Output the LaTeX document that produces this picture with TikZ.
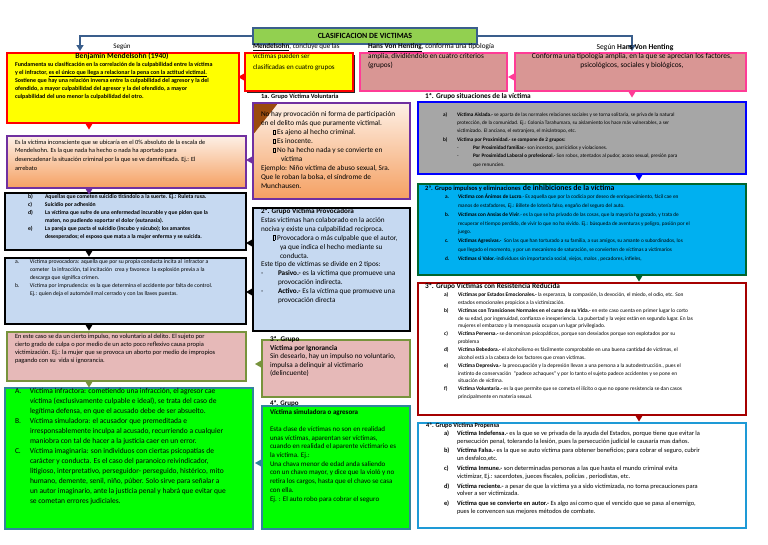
\documentclass[tikz,border=0pt]{standalone}
\usepackage{fontspec}
\setmainfont{Carlito}
\usetikzlibrary{arrows.meta,calc,shadows}
\definecolor{lnblue}{HTML}{3A5E8C}
\definecolor{ttlgreen}{HTML}{92D050}
\definecolor{ylw}{HTML}{FFFF00}
\definecolor{rd}{HTML}{FF0000}
\definecolor{pinkf}{HTML}{D99694}
\definecolor{pinkb}{HTML}{FF3C96}
\definecolor{purp}{HTML}{7030A0}
\definecolor{peachT}{HTML}{FDF0E6}
\definecolor{peachB}{HTML}{F5A062}
\definecolor{ltblue}{HTML}{C6D9F1}
\definecolor{olivec}{HTML}{77933C}
\definecolor{rosef}{HTML}{E6B9B8}
\definecolor{grn}{HTML}{00FF00}
\definecolor{tealc}{HTML}{31859C}
\definecolor{grayf}{HTML}{A6A6A6}
\definecolor{blc}{HTML}{0000FF}
\definecolor{cyanf}{HTML}{00B0F0}
\definecolor{dgreen}{HTML}{00662E}
\definecolor{dred}{HTML}{A50000}
\definecolor{skyb}{HTML}{1E9AD6}
\definecolor{brownc}{HTML}{9A4A0E}
\newcommand\fs[2]{\fontsize{#1}{#2}\selectfont}
\newcommand\lb[2]{\makebox[#1][l]{#2}}
\newcommand\hs[1]{\hspace*{#1}}
\newcommand\sqb{\mbox{\vrule width .35pt height 4.8pt depth 0pt\vbox to 4.8pt{\hrule width 1.9pt height .35pt\vfill\hrule width 1.9pt height .35pt}\vrule width .35pt height 4.8pt depth 0pt}\hspace{1.5pt}}
\newcommand\tdn[2]{\fill[#2] #1 ++(-4,0) -- ++(8,0) -- ++(-4,6.5) -- cycle;}
\newcommand\tlf[2]{\fill[#2] #1 ++(0,-4) -- ++(0,8) -- ++(-7,-4) -- cycle;}
\tikzset{
  bx/.style={draw, line width=2.3pt, inner sep=0pt, outer sep=0pt, anchor=north west},
  tx/.style={anchor=north west, inner sep=0pt, outer sep=0pt, align=left},
  conn/.style={draw=lnblue, line width=2pt, -{Triangle[length=6pt,width=7pt]}},
}
\begin{document}
\begin{tikzpicture}[x=1pt,y=-1pt]
\path[use as bounding box, fill=white] (0,0) rectangle (768,544);

% ---------- top row
\node[bx, draw=lnblue, fill=ttlgreen, line width=1.6pt, minimum width=224pt, minimum height=16pt, font=\bfseries\fs{7.9}{9}] (title) at (253,28) {CLASIFICACION DE VICTIMAS};

\node[bx, draw=rd, fill=ylw, line width=2.6pt, minimum width=232pt, minimum height=70pt] (yl) at (7,53) {};
\node[bx, draw=rd, fill=ylw, line width=2.6pt, minimum width=108pt, minimum height=38pt, drop shadow={shadow xshift=1.5pt, shadow yshift=-2pt, fill=black, opacity=.85}] (ym) at (245,53) {};
\node[bx, draw=pinkb, fill=pinkf, minimum width=147pt, minimum height=38pt] (pm) at (360,53) {};
\node[bx, draw=pinkb, fill=pinkf, minimum width=231pt, minimum height=38pt] (pr) at (515,53) {};

% ---------- left column
\node[bx, draw=purp, top color=peachT, bottom color=peachB, minimum width=239pt, minimum height=52pt] (pk) at (7,136) {};
\node[bx, draw=black, fill=ltblue, line width=2.8pt, minimum width=241pt, minimum height=57pt] (r3) at (5,193) {};
\node[bx, draw=black, fill=ltblue, line width=2.8pt, minimum width=241pt, minimum height=66pt] (r4) at (5,258) {};
\node[bx, draw=olivec, fill=rosef, minimum width=239pt, minimum height=49pt] (r5) at (7,332) {};
\node[bx, draw=tealc, fill=grn, minimum width=248pt, minimum height=141pt] (r6) at (5,388) {};

% ---------- middle column
\node[bx, draw=purp, top color=peachT, bottom color=peachB, minimum width=157pt, minimum height=96pt] (vol) at (253,103) {};
\fill[brownc] ($(vol.north west)+(1.2,1.2)$) -- ++(23,0) -- ++(-23,29) -- cycle;
\node[bx, draw=black, fill=ltblue, line width=2.8pt, minimum width=157pt, minimum height=123pt] (prov) at (253,208) {};
\node[bx, draw=olivec, fill=rosef, minimum width=148pt, minimum height=57pt] (ign) at (262,340) {};
\node[bx, draw=tealc, fill=grn, minimum width=148pt, minimum height=123pt] (g4) at (262,406) {};

% ---------- right column
\node[bx, draw=blc, fill=grayf, minimum width=328pt, minimum height=72pt] (gr) at (418,102) {};
\node[bx, draw=dgreen, fill=cyanf, minimum width=328pt, minimum height=91pt] (cy) at (418,184) {};
\node[bx, draw=dred, fill=white, minimum width=328pt, minimum height=132pt] (rb) at (418,283) {};
\node[bx, draw=skyb, fill=white, minimum width=328pt, minimum height=105pt] (bb) at (418,423) {};

% ---------- callout triangles
\tdn{($(yl.south west)+(82,0)$)}{rd}
\tdn{($(pk.south west)+(82,0)$)}{purp}
\tdn{($(r3.south west)+(84,0)$)}{black}
\tdn{($(r4.south west)+(84,0)$)}{black}
\tdn{($(r5.south west)+(82,0)$)}{olivec}
\tdn{($(pr.south west)+(117,0)$)}{pinkb}
\tdn{($(gr.south west)+(221,0)$)}{blc}
\tdn{($(cy.south west)+(221,0)$)}{dgreen}
\tdn{($(rb.south west)+(221,0)$)}{dred}
\tlf{($(ym.north west)+(0,24)$)}{rd}
\tlf{($(pr.north west)+(0,24)$)}{pinkb}
\tlf{($(vol.north west)+(0,57)$)}{purp}
\tlf{($(prov.north west)+(0,35)$)}{black}
\tlf{($(prov.north west)+(0,84)$)}{black}
\tlf{($(ign.north west)+(0,24)$)}{olivec}
\tlf{($(g4.north west)+(0,57)$)}{tealc}

% ---------- connectors from the title
\coordinate (lend) at (80,51);
\coordinate (rend) at (632,51);
\draw[conn] (title.west) -| (lend);
\draw[conn] (title.east) -| (rend);

% ---------- texts: top row
\node[font=\fs{7}{8}, inner sep=0pt] (seg1) at (122,47) {Según};
\node[font=\bfseries\fs{7.6}{8}, inner sep=0pt] (bm) at (122,56) {Benjamin Mendelsohn (1940)};
\node[tx, font=\bfseries\fs{6}{8}] (t1) at (15,61.8) {Fundamenta su clasificación en la correlación de la culpabilidad entre la víctima\\
y el infractor, \underline{es el único que llega a relacionar la pena con la actitud victimal.}\\
Sostiene que hay una relación inversa entre la culpabilidad del agresor y la del\\
ofendido, a mayor culpabilidad del agresor y la del ofendido, a mayor\\
culpabilidad del uno menor la culpabilidad del otro.};
\node[tx, font=\fs{7}{10.5}] (t2) at (253,43.5) {\textbf{\underline{Mendelsohn}}, concluye que las\\
víctimas pueden ser\\
clasificadas en cuatro grupos};
\node[tx, font=\fs{7.3}{9.5}] (t3) at (368,43.5) {\textbf{\underline{Hans Von Henting}}, conforma una tipología\\
amplia, dividiéndolo en cuatro criterios\\
(grupos)};
\node[font=\fs{7.6}{8}, inner sep=0pt] (seg2) at (635,47) {Según \textbf{Hans Von Henting}};
\node[font=\fs{7.5}{9}, align=center, anchor=north, inner sep=0pt] (t4) at (632,53) {Conforma una tipología amplia, en la que se aprecian los factores,\\
psicológicos, sociales y biológicos,};

% ---------- texts: left column
\node[tx, font=\fs{6.3}{8.6}] (t5) at (15,140) {Es la víctima inconsciente que se ubicaría en el 0\% absoluto de la escala de\\
Mendelsohn. Es la que nada ha hecho o nada ha aportado para\\
desencadenar la situación criminal por la que se ve damnificada. Ej.: El\\
arrebato};
\node[tx, font=\bfseries\fs{5.7}{8}] (t6) at (28,194.5) {\lb{17pt}{b)}Aquellas que cometen suicidio tirándolo a la suerte. Ej.: Ruleta rusa.\\
\lb{17pt}{c)}Suicidio por adhesión\\
\lb{17pt}{d)}La víctima que sufre de una enfermedad incurable y que piden que la\\
\hs{17pt}maten, no pudiendo soportar el dolor (eutanasia).\\
\lb{17pt}{e)}La pareja que pacta el suicidio (incubo y súcubo); los amantes\\
\hs{17pt}desesperados; el esposo que mata a la mujer enferma y se suicida.};
\node[tx, font=\fs{5.7}{7.9}] (t7) at (15,259.5) {\lb{15pt}{a.}Víctima provocadora: aquella que por su propia conducta incita al\ \ infractor a\\
\hs{15pt}cometer\ \ la infracción, tal incitación\ \ crea y favorece\ \ la explosión previa a la\\
\hs{15pt}descarga que significa crimen.\\
\lb{15pt}{b.}Víctima por imprudencia: es la que determina el accidente por falta de control.\\
\hs{15pt}Ej.: quien deja el automóvil mal cerrado y con las llaves puestas.};
\node[tx, font=\fs{6.4}{8}] (t8) at (15,334) {En este caso se da un cierto impulso, no voluntario al delito. El sujeto por\\
cierto grado de culpa o por medio de un acto poco reflexivo causa propia\\
victimización. Ej.: la mujer que se provoca un aborto por medio de impropios\\
pagando con su\ \ vida si ignorancia.};
\node[tx, font=\fs{7.5}{10}] (t9) at (15,388.5) {\lb{15pt}{A.}Víctima infractora: cometiendo una infracción, el agresor cae\\
\hs{15pt}víctima (exclusivamente culpable e ideal), se trata del caso de\\
\hs{15pt}legítima defensa, en que el acusado debe de ser absuelto.\\
\lb{15pt}{B.}Víctima simuladora: el acusador que premeditada e\\
\hs{15pt}irresponsablemente inculpa al acusado, recurriendo a cualquier\\
\hs{15pt}maniobra con tal de hacer a la justicia caer en un error.\\
\lb{15pt}{C.}Víctima imaginaria: son individuos con ciertas psicopatías de\\
\hs{15pt}carácter y conducta. Es el caso del paranoico reivindicador,\\
\hs{15pt}litigioso, interpretativo, perseguidor- perseguido, histérico, mito\\
\hs{15pt}humano, demente, senil, niño, púber. Solo sirve para señalar a\\
\hs{15pt}un autor imaginario, ante la justicia penal y habrá que evitar que\\
\hs{15pt}se cometan errores judiciales.};

% ---------- texts: middle column
\node[font=\bfseries\fs{6.4}{7}, anchor=west, inner sep=0pt] (h1) at (261,97) {1a. Grupo Víctima Voluntaria};
\node[tx, font=\fs{7.3}{9}] (t10) at (261,111.5) {No hay provocación ni forma de participación\\
en el delito más que puramente victimal.\\
\hs{12pt}\sqb Es ajeno al hecho criminal.\\
\hs{12pt}\sqb Es inocente.\\
\hs{12pt}\sqb No ha hecho nada y se convierte en\\
\hs{20pt}víctima\\
Ejemplo: Niño víctima de abuso sexual, Sra.\\
Que le roban la bolsa, el síndrome de\\
Munchausen.};
\node[tx, font=\fs{7.2}{8.9}] (t11) at (261,208.5) {\textbf{2ª. Grupo Víctima Provocadora}\\
Estas víctimas han colaborado en la acción\\
nociva y existe una culpabilidad recíproca.\\
\hs{12pt}\sqb Provocadora o más culpable que el autor,\\
\hs{19pt}ya que indica el hecho mediante su\\
\hs{19pt}conducta.\\
Este tipo de víctimas se divide en 2 tipos:\\
\lb{17pt}{-}\textbf{Pasivo.-} es la víctima que promueve una\\
\hs{17pt}provocación indirecta.\\
\lb{17pt}{-}\textbf{Activo.-} Es la víctima que promueve una\\
\hs{17pt}provocación directa};
\node[tx, font=\fs{7.2}{8.6}] (t12) at (270,336.5) {\textbf{3ª. Grupo}\\
\textbf{Víctima por Ignorancia}\\
Sin desearlo, hay un impulso no voluntario,\\
impulsa a delinquir al victimario\\
(delincuente)};
\node[tx, font=\fs{7}{8.7}] (t13) at (270,400.5) {\textbf{4ª. Grupo}\\
\textbf{Víctima simuladora o agresora}\\
\mbox{}\\
Esta clase de víctimas no son en realidad\\
unas víctimas, aparentan ser víctimas,\\
cuando en realidad el aparente victimario es\\
la víctima. Ej.:\\
Una chava menor de edad anda saliendo\\
con un chavo mayor, y dice que la violó y no\\
retira los cargos, hasta que el chavo se casa\\
con ella.\\
Ej. : El auto robo para cobrar el seguro};

% ---------- texts: right column
\node[font=\bfseries\fs{7.3}{8}, anchor=west, inner sep=0pt] (h2) at (425,97) {1ª. Grupo situaciones de la víctima};
\node[tx, font=\fs{5.2}{8.3}] (t14) at (443,112.5) {\lb{14pt}{\textbf{a)}}\textbf{Víctima Aislada.-} se aparta de las normales relaciones sociales y se torna solitaria, se priva de la natural\\
\hs{14pt}protección, de la comunidad. Ej.: Colonia Tarahumara, su aislamiento los hace más vulnerables, a ser\\
\hs{14pt}victimizado. El anciano, el extranjero, el misántropo, etc.\\
\lb{14pt}{\textbf{b)}}\textbf{Víctima por Proximidad.- se compone de 2 grupos:}\\
\hs{14pt}\lb{16pt}{-}\textbf{Por Proximidad familiar.-} son incestos, parricidios y violaciones.\\
\hs{14pt}\lb{16pt}{-}\textbf{Por Proximidad Laboral o profesional.-} Son robos, atentados al pudor, acoso sexual, presión para\\
\hs{30pt}que renuncien.};
\node[anchor=west, inner sep=0pt] (h3) at (425,188) {{\bfseries\fs{6.5}{7}2ª. Grupo impulsos y eliminaciones} {\bfseries\fs{7.8}{8}de inhibiciones de la víctima}};
\node[tx, font=\fs{5.3}{8.86}] (t15) at (445,194) {\lb{13pt}{\textbf{a.}}\textbf{Víctima con Ánimos de Lucro}.- Es aquella que por la codicia por deseo de enriquecimiento, fácil cae en\\
\hs{13pt}manos de estafadores, Ej.: Billete de lotería falso, engaño del seguro del auto.\\
\lb{13pt}{\textbf{b.}}\textbf{Víctimas con Ansias de Vivir}.- es la que se ha privado de las cosas, que la mayoría ha gozado, y trata de\\
\hs{13pt}recuperar el tiempo perdido, de vivir lo que no ha vivido. Ej.: búsqueda de aventuras y peligro, pasión por el\\
\hs{13pt}juego.\\
\lb{13pt}{\textbf{c.}}\textbf{Víctimas Agresivas.-}\ \ Son las que han torturado a su familia, a sus amigos, su amante o subordinados, los\\
\hs{13pt}que llegado el momento, y por un mecanismo de saturación, se convierten de víctimas a victimarios\\
\lb{13pt}{\textbf{d.}}\textbf{Víctimas si Valor.}-individuos sin importancia social, viejos, malos , pecadores, infieles,};
\node[font=\bfseries\fs{7.3}{8}, anchor=west, inner sep=0pt] (h4) at (425,287) {3ª. Grupo Víctimas con Resistencia Reducida};
\node[tx, font=\fs{5.4}{7.85}] (t16) at (444,292.5) {\lb{14pt}{\textbf{a)}}\textbf{Víctimas por Estados Emocionales.-} la esperanza, la compasión, la devoción, el miedo, el odio, etc. Son\\
\hs{14pt}estados emocionales propicios a la victimización.\\
\lb{14pt}{\textbf{b)}}\textbf{Víctimas con Transiciones Normales en el curso de su Vida.-} en este caso cuenta en primer lugar lo corto\\
\hs{14pt}de su edad, por ingenuidad, confianza e inexperiencia. La pubertad y la vejez están en segundo lugar. En las\\
\hs{14pt}mujeres el embarazo y la menopausia ocupan un lugar privilegiado.\\
\lb{14pt}{\textbf{c)}}\textbf{Víctima Perversa.-} se denominan psicopáticos, porque son desviados porque son explotados por su\\
\hs{14pt}problema\\
\lb{14pt}{\textbf{d)}}\textbf{Víctima Bebedora.-} el alcoholismo es fácilmente comprobable en una buena cantidad de víctimas, el\\
\hs{14pt}alcohol está a la cabeza de los factores que crean víctimas.\\
\lb{14pt}{\textbf{e)}}\textbf{Víctima Depresiva.-} la preocupación y la depresión llevan a una persona a la autodestrucción., pues el\\
\hs{14pt}instinto de conservación\ \ ``padece achaques'' y por lo tanto el sujeto padece accidentes y se pone en\\
\hs{14pt}situación de víctima.\\
\lb{14pt}{\textbf{f)}}\textbf{Víctima Voluntaria.-} es la que permite que se cometa el ilícito o que no opone resistencia se dan casos\\
\hs{14pt}principalmente en materia sexual.};
\node[font=\bfseries\fs{6.3}{7}, anchor=west, inner sep=0pt] (h5) at (426,426) {4ª. Grupo Víctima Propensa};
\node[tx, font=\fs{6.4}{7.8}] (t17) at (444,430.5) {\lb{13pt}{\textbf{a)}}\textbf{Víctima Indefensa.-} es la que se ve privada de la ayuda del Estados, porque tiene que evitar la\\
\hs{13pt}persecución penal, tolerando la lesión, pues la persecución judicial le causaría mas daños.\\[2pt]
\lb{13pt}{\textbf{b)}}\textbf{Víctima Falsa.-} es la que se auto víctima para obtener beneficios; para cobrar el seguro, cubrir\\
\hs{13pt}un desfalco,etc.\\[2pt]
\lb{13pt}{\textbf{c)}}\textbf{Víctima Inmune.-} son determinadas personas a las que hasta el mundo criminal evita\\
\hs{13pt}victimizar, Ej.: sacerdotes, jueces fiscales, policías , periodistas, etc.\\[2pt]
\lb{13pt}{\textbf{d)}}\textbf{Víctima reciente.-} a pesar de que la víctima ya a sido victimizada, no toma precauciones para\\
\hs{13pt}volver a ser victimizada.\\[2pt]
\lb{13pt}{\textbf{e)}}\textbf{Víctima que se convierte en autor.-} Es algo así como que el vencido que se pasa al enemigo,\\
\hs{13pt}pues le convencen sus mejores métodos de combate.};
\end{tikzpicture}
\end{document}
